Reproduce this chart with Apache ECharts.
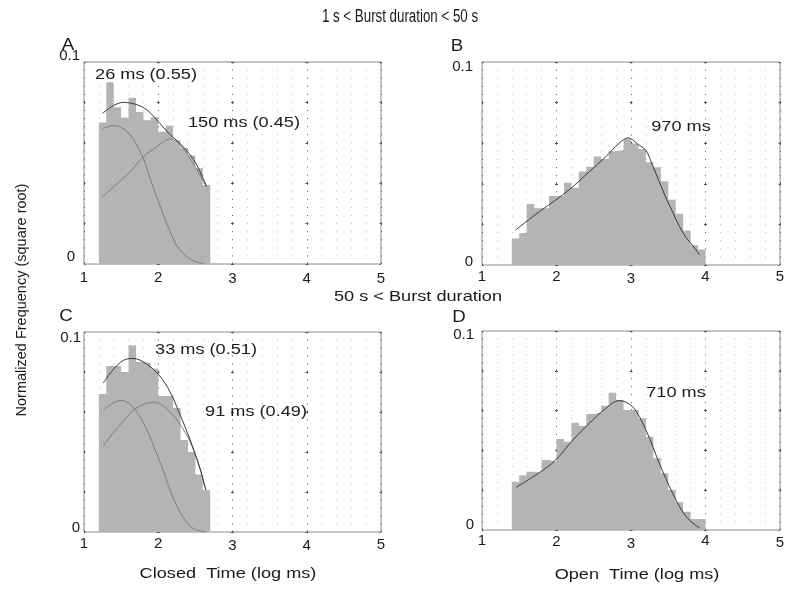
<!DOCTYPE html>
<html><head><meta charset="utf-8">
<script src="https://cdn.jsdelivr.net/npm/echarts@6/dist/echarts.min.js"></script>
<style>html,body{margin:0;padding:0;background:#fff}#c{width:800px;height:602px}</style>
</head><body><div id="c"></div>
<script>
// ---------- data ----------
const closedEdges = [1.2,1.3,1.4,1.5,1.6,1.7,1.8,1.9,2.0,2.1,2.2,2.3,2.4,2.5,2.6,2.7];
const openEdges = [1.4,1.5,1.6,1.7,1.8,1.9,2.0,2.1,2.2,2.3,2.4,2.5,2.6,2.7,2.8,2.9,3.0,3.1,3.2,3.3,3.4,3.5,3.6,3.7,3.8,3.9,4.0];

const histA = [0.070,0.090,0.0776,0.0725,0.0823,0.0752,0.0712,0.0727,0.0655,0.0684,0.0611,0.0574,0.0537,0.0474,0.0391];
const histB = [0.0131,0.0158,0.030,0.0279,0.0279,0.0340,0.0340,0.0405,0.0380,0.0460,0.0484,0.0535,0.0522,0.0560,0.0566,0.0621,0.0598,0.0572,0.0506,0.0482,0.0412,0.0322,0.0252,0.0170,0.0097,0.0076];
const histC = [0.069,0.083,0.083,0.080,0.0934,0.085,0.0845,0.0816,0.068,0.068,0.062,0.046,0.040,0.0288,0.021];
const histD = [0.0243,0.0275,0.0293,0.0288,0.0352,0.0343,0.0457,0.0444,0.0539,0.0523,0.0583,0.0590,0.0625,0.0690,0.0653,0.0603,0.0603,0.0561,0.0469,0.0360,0.0285,0.0201,0.0139,0.0092,0.0055,0.0055];

const fitATotal = [[1.25,0.0746],[1.4,0.0785],[1.53,0.0800],[1.7,0.0790],[1.85,0.0762],[2.02,0.0697],[2.16,0.0640],[2.29,0.0598],[2.43,0.0540],[2.52,0.0490],[2.65,0.0385]];
const fitAFast  = [[1.25,0.0670],[1.39,0.0685],[1.51,0.0675],[1.62,0.0639],[1.78,0.0540],[1.89,0.0424],[2.02,0.0292],[2.16,0.0160],[2.29,0.0069],[2.47,0.0017],[2.63,0.0]];
const fitASlow  = [[1.25,0.0333],[1.62,0.0457],[1.80,0.0531],[1.98,0.0580],[2.16,0.0619],[2.29,0.0592],[2.47,0.0498],[2.65,0.0383]];
const fitB      = [[1.45,0.0172],[1.77,0.0263],[1.99,0.0320],[2.22,0.0386],[2.44,0.0460],[2.66,0.0533],[2.84,0.0600],[2.96,0.0626],[3.11,0.0590],[3.2,0.0565],[3.29,0.0490],[3.38,0.0410],[3.47,0.0330],[3.56,0.0260],[3.65,0.0190],[3.74,0.0135],[3.83,0.0095],[3.92,0.0050]];
const fitCTotal = [[1.26,0.0746],[1.395,0.0813],[1.53,0.0858],[1.66,0.0868],[1.84,0.0841],[2.02,0.0780],[2.16,0.0700],[2.29,0.0590],[2.43,0.0460],[2.56,0.0320],[2.64,0.0210]];
const fitCFast  = [[1.26,0.0608],[1.395,0.0646],[1.51,0.0658],[1.66,0.0624],[1.80,0.0546],[1.93,0.0438],[2.07,0.0304],[2.2,0.0171],[2.34,0.0071],[2.47,0.0018],[2.64,0.0]];
const fitCSlow  = [[1.26,0.0429],[1.395,0.0496],[1.53,0.0554],[1.66,0.0608],[1.80,0.0638],[1.96,0.0649],[2.07,0.0629],[2.16,0.0600],[2.29,0.0540],[2.43,0.0450],[2.56,0.0320],[2.64,0.0210]];
const fitD      = [[1.46,0.0215],[1.77,0.0288],[1.99,0.0352],[2.22,0.0452],[2.44,0.0536],[2.66,0.0611],[2.84,0.0650],[3.02,0.0620],[3.2,0.0503],[3.38,0.0335],[3.56,0.0184],[3.74,0.0067],[3.92,0.0010]];

const xTickValues = [1,2,3,4,5];
const yTickLabels = [0, 0.1];

// ---------- layout / style ----------
const FONT = "'Liberation Sans', Arial, sans-serif";
const panels = [
  {left:84, top:62, width:297, height:202, edges:closedEdges, hist:histA,
   fits:[[fitAFast,'#7d7d7d'],[fitASlow,'#7d7d7d'],[fitATotal,'#383838']],
   yMargin:4, y01:[0,0,12,0], y0:[0,5,14,0], xMargin:6, xShift:{1:0,2:0,3:3,4:3,5:2}},
  {left:482, top:62, width:298, height:203, edges:openEdges, hist:histB,
   fits:[[fitB,'#383838']],
   yMargin:9, y01:[10,0,0,0], y0:[0,0,6,0], xMargin:4, xShift:{1:0,2:0,3:4,4:0,5:0}},
  {left:84, top:332, width:297, height:200, edges:closedEdges, hist:histC,
   fits:[[fitCFast,'#7d7d7d'],[fitCSlow,'#7d7d7d'],[fitCTotal,'#383838']],
   yMargin:3, y01:[12,0,0,0], y0:[0,1,8,0], xMargin:4, xShift:{1:0,2:0,3:5,4:4,5:3}},
  {left:482, top:331, width:298, height:199, edges:openEdges, hist:histD,
   fits:[[fitD,'#383838']],
   yMargin:8, y01:[8,0,0,0], y0:[0,0,10,0], xMargin:3, xShift:{1:0,2:2,3:6,4:0,5:4}}
];

function richShifts(){
  const r = {};
  for (let k=0;k<=8;k++) r['s'+k] = {padding:[k,0,0,0], fontSize:15, fontFamily:FONT, color:'#1a1a1a'};
  return r;
}

const grids=[], xAxes=[], yAxes=[], series=[];
panels.forEach((p,i)=>{
  const m = p.height/25, M = p.width/4;
  grids.push({left:p.left, top:p.top, width:p.width, height:p.height, show:true,
    borderColor:'#8c8c8c', borderWidth:1, backgroundColor:'#fff', containLabel:false});
  xAxes.push({type:'value', gridIndex:i, min:1, max:5, interval:1,
    axisLine:{show:false}, axisTick:{show:false},
    axisLabel:{margin:p.xMargin, fontSize:15, fontFamily:FONT, color:'#1a1a1a', lineHeight:15,
      formatter:(v)=> xTickValues.includes(v) ? '{s'+(p.xShift[v]||0)+'|'+v+'}' : '',
      rich:richShifts()},
    splitLine:{show:true, lineStyle:{color:'#555', width:1,
      type:[3, m-2, 1, m-1, 1, m-1, 1, m-1, 1, m-2], dashOffset:1.5}},
    minorTick:{show:false, splitNumber:5},
    minorSplitLine:{show:true, lineStyle:{color:'#bdbdbd', width:1, type:[1, m-1], dashOffset:0.5}}
  });
  yAxes.push({type:'value', gridIndex:i, min:0, max:0.1, interval:0.02,
    axisLine:{show:false}, axisTick:{show:false},
    axisLabel:{margin:p.yMargin, fontSize:15, fontFamily:FONT, color:'#1a1a1a',
      formatter:(v)=>{
        if (Math.abs(v-yTickLabels[1])<1e-9) return '{t|'+yTickLabels[1]+'}';
        if (Math.abs(v-yTickLabels[0])<1e-9) return '{z|'+yTickLabels[0]+'}';
        return '';
      },
      rich:{t:{padding:p.y01, fontSize:15, fontFamily:FONT, color:'#1a1a1a'},
            z:{padding:p.y0, fontSize:15, fontFamily:FONT, color:'#1a1a1a'}}},
    splitLine:{show:true, lineStyle:{color:'#555', width:1, type:[3, M-3], dashOffset:1.5}}
  });
  const pts = p.hist.map((v,k)=>[p.edges[k], v]);
  pts.push([p.edges[p.edges.length-1], p.hist[p.hist.length-1]]);
  series.push({type:'line', xAxisIndex:i, yAxisIndex:i, step:'end', data:pts,
    symbol:'none', silent:true, z:2, lineStyle:{width:0, opacity:0},
    areaStyle:{color:'#b4b4b4', opacity:1}});
  p.fits.forEach(([d,c])=>{
    series.push({type:'line', xAxisIndex:i, yAxisIndex:i, data:d, smooth:0.35,
      symbol:'none', silent:true, z:3, lineStyle:{color:c, width:1}});
  });
});

function txt(t, x, y, size, sx){
  return {type:'text', x:x, y:y, scaleX:sx||1, z:100,
    style:{text:t, x:0, y:0, fontSize:size, fontFamily:FONT, fill:'#1a1a1a',
      textAlign:'center', textVerticalAlign:'middle', align:'center', verticalAlign:'middle'}};
}
const graphic = [
  txt('1 s < Burst duration < 50 s', 400, 17, 18, 0.74),
  txt('50 s < Burst duration', 418, 297, 15, 1.21),
  txt('A', 68, 45, 17, 1.1), txt('B', 457, 46, 17, 1.1),
  txt('C', 66, 316, 17, 1.1), txt('D', 459, 317, 17, 1.1),
  txt('26 ms (0.55)', 146, 75, 15, 1.21),
  txt('150 ms (0.45)', 244, 123, 15, 1.21),
  txt('970 ms', 681, 127, 15, 1.21),
  txt('33 ms (0.51)', 206, 350, 15, 1.21),
  txt('91 ms (0.49)', 256, 412, 15, 1.21),
  txt('710 ms', 676, 393, 15, 1.21),
  txt('Closed  Time (log ms)', 228, 574, 15, 1.21),
  txt('Open  Time (log ms)', 637, 575, 15, 1.21),
  {type:'text', x:22, y:300, rotation:Math.PI/2, z:100,
    style:{text:'Normalized Frequency (square root)', x:0, y:0, fontSize:14.5, fontFamily:FONT, fill:'#1a1a1a',
      textAlign:'center', textVerticalAlign:'middle', align:'center', verticalAlign:'middle'}}
];

const chart = echarts.init(document.getElementById('c'), null, {renderer:'canvas'});
chart.setOption({animation:false, backgroundColor:'#fff', grid:grids, xAxis:xAxes, yAxis:yAxes, series:series, graphic:graphic});
</script></body></html>
